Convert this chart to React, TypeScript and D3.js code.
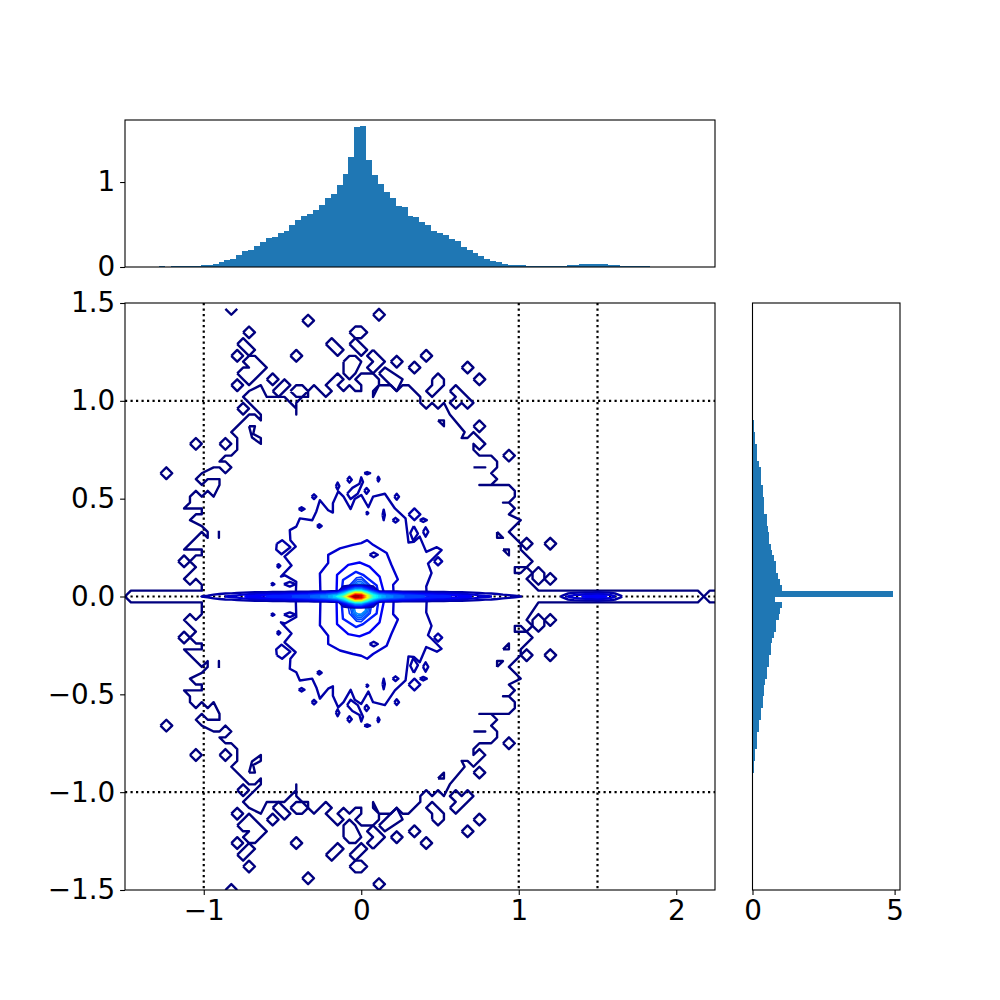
import { useEffect, useRef } from "react";
import * as d3 from "d3";

// bin sizes of the 2d histogram, contour vertices are stored in bin units
const binX = 0.0375;
const binY = 0.03;

// top histogram, bins from histXStart
const histXStart = -1.281;
const histXValues = [
  0.012, 0, 0.012, 0.012, 0.012, 0.012, 0.012, 0.02, 0.02, 0.04, 0.055, 0.08, 0.1, 0.138, 0.186, 0.2, 0.245, 0.3, 0.34,
  0.35, 0.4, 0.42, 0.494, 0.553, 0.6, 0.625, 0.672, 0.73, 0.814, 0.86, 0.968, 1.1, 1.29, 1.644, 1.656, 1.265, 1.087,
  0.98, 0.885, 0.814, 0.72, 0.707, 0.6, 0.589, 0.53, 0.494, 0.423, 0.4, 0.375, 0.33, 0.304, 0.233, 0.2, 0.162, 0.126,
  0.09, 0.067, 0.055, 0.04, 0.02, 0.02, 0.02, 0.01, 0.01, 0.01, 0.01, 0.01, 0.01, 0.01, 0.02, 0.02, 0.03, 0.03, 0.03,
  0.03, 0.03, 0.02, 0.02, 0.01, 0.01, 0.01, 0.01, 0.01,
];

// right histogram, from y = -0.9 upward
const histYStart = -0.9;
const histYValues = [
  0.047, 0.047, 0.094, 0.094, 0.164, 0.164, 0.164, 0.235, 0.235, 0.293, 0.293, 0.364, 0.364, 0.41, 0.41, 0.45, 0.516,
  0.516, 0.575, 0.575, 0.66, 0.66, 0.7, 0.75, 0.83, 0.83, 0.915, 0.975, 1.03, 0.8, 4.95, 1.03, 0.975, 0.9, 0.83, 0.83,
  0.75, 0.69, 0.66, 0.575, 0.575, 0.55, 0.516, 0.516, 0.41, 0.41, 0.41, 0.364, 0.364, 0.293, 0.293, 0.293, 0.235,
  0.164, 0.164, 0.164, 0.094, 0.094, 0.047, 0.047,
];

// density along y = 0, the thin horizontal band
const ridgeStart = -29;
const ridgeValues = [
  0, 0, 0.035, 0.04, 0.05, 0.06, 0.07, 0.075, 0.085, 0.1, 0.115, 0.12, 0.13, 0.14, 0.15, 0.15, 0.16, 0.17, 0.18, 0.19, 0.2,
  0.22, 0.24, 0.26, 0.3, 0.35, 0.44, 0.7, 1, 0.95, 0.65, 0.42, 0.33, 0.28, 0.25, 0.23, 0.21, 0.2, 0.19, 0.18, 0.17, 0.16,
  0.15, 0.15, 0.14, 0.13, 0.12, 0.115, 0.1, 0.085, 0.075, 0.07, 0.06, 0.05, 0.045, 0.04, 0.035, 0, 0, 0, 0, 0, 0, 0.04, 0.07,
  0.09, 0.1, 0.11, 0.11, 0.12, 0.11, 0.1, 0.07, 0.04, 0, 0,
];
const shoulderStart = -3;
const shoulderValues = [0.12, 0.2, 0.3, 0.3, 0.2, 0.12];

const levelCount = 30;

// outermost contour, upper half (lower half is the same picture flipped)
const outerLine = [
  [-40, 0], [-39, 1], [-27, 1], [-27, 2], [-28, 3], [-29, 2], [-30, 3], [-28, 5], [-29, 6], [-28, 7], [-27, 7],
  [-27, 8], [-29, 8], [-30, 8], [-27, 11], [-26, 10], [-26, 11], [-27, 12], [-29, 13], [-28, 14], [-27, 14], [-27, 15],
  [-29, 15], [-30, 15], [-29, 16], [-29, 17], [-28, 18], [-27, 17], [-26, 18], [-25, 17], [-24, 19], [-24, 20],
  [-26, 20], [-27, 19], [-28, 20], [-27, 21], [-25, 22], [-24, 22], [-23, 21], [-22, 22], [-23, 23], [-24, 23],
  [-23, 24], [-22, 24], [-21, 25], [-21, 27], [-22, 28], [-19, 31], [-18, 31], [-17, 30], [-17, 31], [-20, 34],
  [-19, 35], [-17, 36], [-16, 34], [-13, 34], [-11, 32], [-11, 31], [-11, 33], [-10, 34], [-9, 34], [-9, 35], [-8, 36],
  [-6, 34], [-5, 35], [-6, 36], [-4, 38], [-3, 37], [-4, 36], [-3, 35], [-2, 36], [-1, 35], [0, 35], [0, 36], [-1, 37],
  [0, 38], [2, 38], [3, 37], [3, 36], [2, 34], [2, 35], [3, 36], [4, 36], [5, 36], [6, 35], [7, 36], [8, 36], [10, 34],
  [10, 33], [11, 32], [12, 33], [13, 32], [14, 33], [15, 31], [17.5, 28], [17, 27], [18, 27], [19, 28], [21, 26],
  [20, 25], [19, 26], [19, 25], [20, 24], [22, 24], [23, 23], [23, 22], [22, 21], [23, 20], [22, 19], [20, 19], [25, 19],
  [26, 18], [26, 17], [25, 16], [24, 16], [25, 16], [26, 15], [25, 14], [27, 13], [25, 11], [27, 9], [27, 8], [29, 6],
  [27, 4], [26, 4], [26, 5], [28, 5], [29, 4], [28, 3], [30, 1], [57, 1], [58, 0],
];
const outerTail = [[58, 0], [59, 1], [60, 1]];
const topChevron = [[-23, 49], [-22, 48], [-21, 49]];
const outerSliver = [[19, 22], [21, 22]];

const outerDiamonds = [
  [-33, 21], [-28, 26], [-23, 26], [-21, 41], [-19, 45], [-11, 41], [-9, 47], [3, 48], [6, 40], [9, 39], [-21, 36],
  [-15, 37], [-30, 6], [-20, 32], [28, 9], [32, 9], [25, 24], [20, 29], [20, 37], [18, 39], [11, 41], [32, 3],
];

const outerBlobs = [
  [[-21, 43], [-20, 44], [-18, 42], [-19, 41]],
  [[-6, 43], [-5, 44], [-3, 42], [-4, 41]],
  [[-2, 45], [-1, 46], [0, 46], [1, 45], [0, 44], [-1, 44]],
  [[-2, 43], [-1, 44], [1, 42], [0, 41]],
  [[-3, 40], [-2, 41], [-1, 41], [0, 40], [-1, 38], [-2, 37], [-3, 38]],
  [[2, 42], [4, 40], [2, 38], [1, 39], [2, 40], [1, 41]],
  [[3, 38], [4, 39], [7, 37], [6, 35], [4, 37]],
  [[-12, 35], [-11, 36], [-10, 36], [-9, 35], [-10, 34], [-11, 34]],
  [[-15, 35], [-13, 37], [-12, 36], [-14, 34]],
  [[-21, 38], [-20, 39], [-19, 39], [-20, 40], [-19, 41], [-18, 41], [-16, 39], [-18, 37], [-19, 36], [-20, 37]],
  [[12, 37], [13, 38], [14, 37], [14, 36], [12, 34], [11, 35], [12, 36]],
  [[15, 35], [16, 36], [19, 33], [18, 32], [17, 33], [16, 32], [15, 33], [16, 34]],
  [[13, 30], [14, 30], [14, 29]],
  [[23, 11], [24, 10], [23, 10]],
  [[24, 8], [25, 8], [25, 7]],
  [[29, 4], [30, 5], [31, 4], [31, 3], [30, 2], [29, 3]],
  [[-19, 29], [-18, 29], [-18.3, 27.7], [-17, 27], [-17, 26], [-18.5, 27.1]],
  [[-24.1, 11.2], [-24.1, 10]],
];

// second contour, the ring at r ~ 0.5
const secondLine = [
  [-11.1, 0], [-11, 2.5], [-12.9, 3.6], [-13.6, 3.4], [-11.8, 5.3], [-13, 6.8], [-11.1, 8.5], [-12, 9.6], [-12.1, 11.3],
  [-11, 11.9], [-10.4, 13.3], [-8.3, 13], [-7.6, 14.5], [-7, 16.4], [-5.6, 14.7], [-4.8, 14.3], [-4.8, 15.9],
  [-3.9, 17.9], [-3, 17], [-1.8, 14.9], [-1.1, 16.6], [0, 17.3], [1.2, 15.2], [2, 17], [4, 17.5], [5.7, 15], [7.5, 13.3],
  [8, 9.2], [8.9, 9.3], [9.9, 10.2], [11, 7.6], [12.8, 8.4], [13.6, 7.9], [11.3, 5.6], [11.9, 4], [11, 1.7], [11.1, 0],
];
const secondBlobs = [
  [[-10.6, 14.9], [-10.1, 15.2], [-9.6, 14.9], [-10.1, 14.6]],
  [[-8.4, 17], [-8, 17.4], [-7.6, 17], [-8, 16.6]],
  [[-7.5, 12], [-7.1, 12.3], [-6.7, 12], [-7.1, 11.7]],
  [[-4.3, 18.8], [-4, 19.4], [-3.7, 18.8], [-4, 18.2]],
  [[-2.4, 19.9], [-2, 20.4], [-1.6, 19.9], [-2, 19.4]],
  [[0.5, 21], [1, 21.2], [1.5, 21], [1, 20.8]],
  [[2.7, 20], [2.9, 20.4], [3.1, 20], [2.9, 19.6]],
  [[0.5, 18], [0.9, 18.5], [1.3, 18], [0.9, 17.5]],
  [[0.8, 14.2], [1, 14.4], [1.2, 14.2], [1, 14]],
  [[3.6, 13.9], [3.8, 14.8], [4, 13.9], [3.8, 13]],
  [[5.3, 13], [5.8, 13.4], [6.3, 13], [5.8, 12.6]],
  [[5.6, 17], [6, 17.5], [6.4, 17], [6, 16.5]],
  [[-14.3, 5.2], [-14, 5.5], [-13.7, 5.2], [-14, 4.9]],
  [[-15.3, 2.1], [-15, 2.3], [-14.7, 2.1], [-15, 1.9]],
  [[-13.1, 2.1], [-12.1, 2.5], [-11.1, 2.1], [-12.1, 1.7]],
  [[-14.3, 9], [-13.4, 9.6], [-12, 8.4], [-13.5, 7.2], [-14.4, 8]],
  [[-2.4, 17.5], [-1.5, 18.5], [-0.3, 19.2], [0, 20.3], [0.3, 19.5], [-0.6, 17.5], [-1.8, 16.6]],
  [[8.9, 12], [9.6, 10.7], [8.8, 9.5], [8.3, 10.8]],
  [[8, 14], [9, 15], [10, 14], [9, 13]],
  [[12.3, 6], [13, 6.7], [13.7, 6], [13, 5.3]],
  [[10.45, 11], [10.9, 11.8], [11.35, 11], [10.9, 10.2]],
  [[9.9, 13], [10.5, 13.3], [11.1, 13], [10.5, 12.7]],
  [[1.4, 7.1], [2.1, 7.5], [2.8, 7.1], [2.1, 6.7]],
];

// inner lobes above the peak, outermost first, each with its contour level
const innerLobes = [
  [[-6.9, 0], [-7, 3.9], [-5.6, 5.7], [-5.6, 7.1], [-3.6, 8.2], [-1.4, 8.8], [0, 9.1], [1, 9.6], [2, 8.8], [4.3, 7.4], [5.1, 5.4], [6.2, 2.9], [5.4, 2], [5.5, 0]],
  [[-4.2, 0], [-4.1, 3.7], [-2.2, 5.4], [-0.3, 5.8], [1.4, 5.1], [3.1, 3.4], [4, 0]],
  [[-3.4, 0], [-3.1, 2.8], [-0.9, 4.2], [0.3, 3.7], [2.6, 1.9], [3, 0]],
  [[-2.5, 0], [-2, 1.9], [-0.8, 3.2], [0, 3.3], [1.5, 1.9], [2, 0]],
  [[-2.2, 0], [-1.6, 2], [-0.7, 2.9], [0.1, 2.9], [1.3, 1.8], [1.8, 0]],
  [[-2, 0], [-1.4, 1.9], [-0.6, 2.6], [0, 2.6], [1.1, 1.6], [1.5, 0]],
  [[-1.8, 0], [-1.2, 1.8], [-0.6, 2.3], [0, 2.3], [0.9, 1.5], [1.3, 0]],
  [[-1.6, 0], [-1, 1.7], [-0.5, 2], [0, 2], [0.7, 1.4], [1, 0]],
];
const innerLobeLevels = [2, 3, 4, 4.6, 5.2, 5.8, 6.4, 7];

const xTicks = [-1, 0, 1, 2];
const yTicks = [-1.5, -1, -0.5, 0, 0.5, 1, 1.5];
const topYTicks = [0, 1];
const rightXTicks = [0, 5];
const guideX = [-1, 1, 1.5];
const guideY = [-1, 0, 1];

const blue = "#1f77b4";
const font = "'DejaVu Sans'";

const jet = d3
  .scaleLinear<string>()
  .domain([0, 0.11, 0.36, 0.64, 0.89, 1])
  .range(["#00007f", "#0000ff", "#00ffff", "#ffff00", "#ff0000", "#7f0000"]);
const levelColor = (n: number) => jet(n / (levelCount - 1));

// the lower half sits one bin lower than a plain flip, except the line hugging y = 0
const flipRow = (j: number) => (j <= 1 ? -j : -j - 1);
const flip = (pts: number[][]) => pts.map(([i, j]) => [i, flipRow(j)]);
const close = (pts: number[][]) => [...pts, pts[0]];
const diamond = ([i, j]: number[]) => close([[i - 1, j], [i, j + 1], [i + 1, j], [i, j - 1]]);

function styleAxis(g: any) {
  g.selectAll("path.domain").remove();
  g.selectAll(".tick line").attr("stroke", "#000").attr("stroke-width", 1.1);
  g.selectAll(".tick text").attr("fill", "#000").style("font-family", font).style("font-size", "27.8px");
}

const minus = (s: string) => s.replace("-", "\u2212");

export default function App() {
  const ref = useRef<SVGSVGElement>(null);

  useEffect(() => {
    const svg = d3.select(ref.current);
    svg.selectAll("*").remove();

    const main = { left: 125, right: 715, top: 303, bottom: 890 };
    const top = { top: 120, bottom: 267 };
    const side = { left: 752.5, right: 900 };

    const x = d3.scaleLinear().domain([-1.5, 2.246]).range([main.left, main.right]);
    const y = d3.scaleLinear().domain([-1.5, 1.5]).range([main.bottom, main.top]);
    const topY = d3.scaleLinear().domain([0, 1.73]).range([top.bottom, top.top]);
    const sideX = d3.scaleLinear().domain([0, 5.19]).range([side.left, side.right]);

    svg
      .append("defs")
      .append("clipPath")
      .attr("id", "plot")
      .append("rect")
      .attr("x", main.left)
      .attr("y", main.top)
      .attr("width", main.right - main.left)
      .attr("height", main.bottom - main.top);

    // top histogram
    svg
      .append("g")
      .attr("shape-rendering", "crispEdges")
      .selectAll("rect")
      .data(histXValues)
      .join("rect")
      .attr("x", (d, n) => x(histXStart + n * binX))
      .attr("y", (d) => topY(d))
      .attr("width", (d, n) => x(histXStart + (n + 1) * binX) - x(histXStart + n * binX))
      .attr("height", (d) => topY(0) - topY(d))
      .attr("fill", blue);

    // right histogram
    svg
      .append("g")
      .attr("shape-rendering", "crispEdges")
      .selectAll("rect")
      .data(histYValues)
      .join("rect")
      .attr("x", sideX(0))
      .attr("y", (d, n) => y(histYStart + (n + 1) * binY))
      .attr("width", (d) => sideX(d) - sideX(0))
      .attr("height", (d, n) => y(histYStart + n * binY) - y(histYStart + (n + 1) * binY))
      .attr("fill", blue);

    const plot = svg.append("g").attr("clip-path", "url(#plot)");

    // dotted guides
    guideX.forEach((v) => {
      plot
        .append("line")
        .attr("x1", x(v))
        .attr("x2", x(v))
        .attr("y1", main.top)
        .attr("y2", main.bottom)
        .attr("stroke", "#000")
        .attr("stroke-width", 2.2)
        .attr("stroke-dasharray", "2.2 3.3");
    });
    guideY.forEach((v) => {
      plot
        .append("line")
        .attr("x1", main.left)
        .attr("x2", main.right)
        .attr("y1", y(v))
        .attr("y2", y(v))
        .attr("stroke", "#000")
        .attr("stroke-width", 2.2)
        .attr("stroke-dasharray", "2.2 3.3");
    });

    const line = d3
      .line<number[]>()
      .x((d) => x(d[0] * binX))
      .y((d) => y(d[1] * binY));

    const drawBoth = (pts: number[][], level: number, width = 2.4) => {
      [pts, flip(pts)].forEach((p) => {
        plot
          .append("path")
          .attr("d", line(p))
          .attr("fill", "none")
          .attr("stroke", levelColor(level))
          .attr("stroke-width", width)
          .attr("stroke-linejoin", "round");
      });
    };

    drawBoth(outerLine, 0);
    drawBoth(outerTail, 0);
    drawBoth(topChevron, 0);
    drawBoth(close(outerSliver), 0);
    outerDiamonds.forEach((c) => drawBoth(diamond(c), 0));
    outerBlobs.forEach((b) => drawBoth(close(b), 0));

    drawBoth(secondLine, 1);
    secondBlobs.forEach((b) => drawBoth(close(b), 1));

    innerLobes.forEach((l, n) => drawBoth(l, innerLobeLevels[n], n > 2 ? 1.6 : 2.4));

    // thin band along y = 0 from a 5 row grid
    const nCols = ridgeValues.length;
    const grid: number[] = [];
    for (let row = 0; row < 5; row++) {
      for (let col = 0; col < nCols; col++) {
        if (row === 2) grid.push(ridgeValues[col]);
        else if (row === 1 || row === 3) grid.push(shoulderValues[col + ridgeStart - shoulderStart] ?? 0);
        else grid.push(0);
      }
    }
    const thresholds = d3.range(1, levelCount).map((n) => n / (levelCount - 1));
    const bands = d3.contours().size([nCols, 5]).thresholds(thresholds)(grid);
    const bandPath = d3
      .line<number[]>()
      .x((d) => x((d[0] - 0.5 + ridgeStart) * binX))
      .y((d) => y((2 - (d[1] - 0.5)) * binY));

    bands.forEach((band, n) => {
      const d = band.coordinates
        .flatMap((poly) => poly.map((ring) => bandPath(ring as number[][])))
        .join("");
      plot
        .append("path")
        .attr("d", d)
        .attr("fill", "none")
        .attr("stroke", levelColor(n + 1))
        .attr("stroke-width", 2.4);
    });

    // axes
    svg
      .append("g")
      .attr("transform", `translate(0,${main.bottom})`)
      .call(
        d3.axisBottom(x).tickValues(xTicks).tickSize(4.9).tickPadding(4.9).tickFormat((d) => minus(d3.format("d")(d as number)))
      )
      .call(styleAxis);
    svg
      .append("g")
      .attr("transform", `translate(${main.left},0)`)
      .call(
        d3.axisLeft(y).tickValues(yTicks).tickSize(4.9).tickPadding(4.9).tickFormat((d) => minus(d3.format(".1f")(d as number)))
      )
      .call(styleAxis);
    svg
      .append("g")
      .attr("transform", `translate(${main.left},0)`)
      .call(d3.axisLeft(topY).tickValues(topYTicks).tickSize(4.9).tickPadding(4.9).tickFormat((d) => d3.format("d")(d as number)))
      .call(styleAxis);
    svg
      .append("g")
      .attr("transform", `translate(0,${main.bottom})`)
      .call(d3.axisBottom(sideX).tickValues(rightXTicks).tickSize(4.9).tickPadding(4.9).tickFormat((d) => d3.format("d")(d as number)))
      .call(styleAxis);

    // frames
    const frames = [
      [main.left, main.top, main.right - main.left, main.bottom - main.top],
      [main.left, top.top, main.right - main.left, top.bottom - top.top],
      [side.left, main.top, side.right - side.left, main.bottom - main.top],
    ];
    svg
      .append("g")
      .selectAll("rect")
      .data(frames)
      .join("rect")
      .attr("x", (d) => d[0])
      .attr("y", (d) => d[1])
      .attr("width", (d) => d[2])
      .attr("height", (d) => d[3])
      .attr("fill", "none")
      .attr("stroke", "#000")
      .attr("stroke-width", 1.1);
  }, []);

  return <svg ref={ref} width={1000} height={1000} style={{ position: "absolute", left: 0, top: 0, background: "#fff" }} />;
}
